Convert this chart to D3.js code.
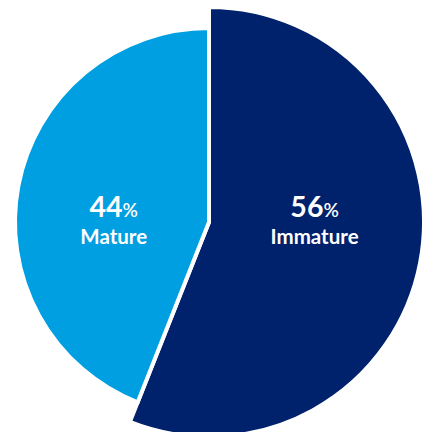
<!DOCTYPE html>
<html>
<head>
<meta charset="utf-8">
<script src="https://cdn.jsdelivr.net/npm/d3@7"></script>
<style>
html,body{margin:0;padding:0;background:#fff;}
svg{display:block;}
</style>
</head>
<body>
<svg id="chart" width="428" height="432"></svg>
<script>
const categories = ["Immature", "Mature"];
const values = [56, 44];
const colors = ["#00216b", "#009fe1"];
const radii = [215, 194];

const svg = d3.select("#chart");
const cx = 209, cy = 222;
const g = svg.append("g").attr("transform", `translate(${cx},${cy})`);

const pie = d3.pie().sort(null).value(d => d.value);
const data = categories.map((c, i) => ({ name: c, value: values[i], color: colors[i], r: radii[i] }));
const arcs = pie(data);

g.selectAll("path.slice")
  .data(arcs)
  .join("path")
  .attr("class", "slice")
  .attr("d", d => d3.arc().innerRadius(0).outerRadius(d.data.r)(d))
  .attr("fill", d => d.data.color)
  .attr("stroke", "#fff")
  .attr("stroke-width", 4)
  .attr("stroke-linejoin", "miter");

const labels = g.selectAll("g.label")
  .data(arcs)
  .join("g")
  .attr("class", "label")
  .attr("transform", d => {
    const mid = (d.startAngle + d.endAngle) / 2;
    const x = Math.sin(mid) * d.data.r * 0.5;
    return `translate(${x},0)`;
  });

const t1 = labels.append("text")
  .attr("text-anchor", "middle")
  .attr("y", -5)
  .attr("fill", "#fff")
  .attr("font-family", "Lato, 'Open Sans', sans-serif");
t1.append("tspan").attr("font-size", 28.5).attr("font-weight", 700).text(d => d.data.value);
t1.append("tspan").attr("font-size", 19).attr("font-weight", 600).text("%");

labels.append("text")
  .attr("text-anchor", "middle")
  .attr("y", 22)
  .attr("fill", "#fff")
  .attr("font-family", "Lato, 'Open Sans', sans-serif")
  .attr("font-size", 20.5)
  .attr("font-weight", 700)
  .text(d => d.data.name);
</script>
</body>
</html>
